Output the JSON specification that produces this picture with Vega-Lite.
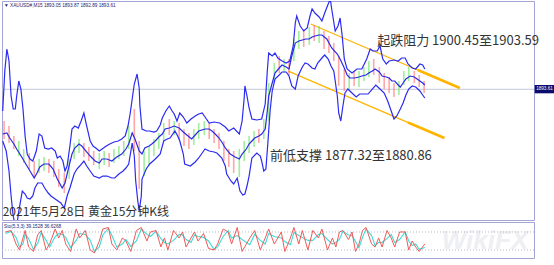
{
"$schema":"https://vega.github.io/schema/vega-lite/v6.json",
"background":"white",
"padding":{"left":1,"top":0,"right":0,"bottom":0},
"spacing":0,
"config":{"view":{"stroke":"#a3a5d6","strokeWidth":1},"font":"Liberation Sans","axis":{"labelFont":"Liberation Sans","labelFontSize":4.6,"labelColor":"#1c1c70","domainColor":"#9ea0d0","tickColor":"#9ea0d0","tickSize":2,"labelPadding":2,"grid":false,"title":null}},
"datasets":{
"bands":[
{"s":"U","i":1,"p":1888.14},{"s":"U","i":4,"p":1898.21},{"s":"U","i":7,"p":1903.75},{"s":"U","i":10,"p":1900.73},{"s":"U","i":13,"p":1891.92},{"s":"U","i":16,"p":1888.65},{"s":"U","i":19,"p":1888.65},{"s":"U","i":21,"p":1891.92},{"s":"U","i":24,"p":1895.70},{"s":"U","i":27,"p":1893.68},{"s":"U","i":30,"p":1888.65},{"s":"U","i":33,"p":1881.85},{"s":"U","i":36,"p":1877.31},{"s":"U","i":40,"p":1876.06},{"s":"U","i":44,"p":1875.55},{"s":"U","i":49,"p":1878.07},{"s":"U","i":53,"p":1882.35},{"s":"U","i":57,"p":1881.85},{"s":"U","i":61,"p":1878.83},{"s":"U","i":66,"p":1878.57},{"s":"U","i":71,"p":1878.83},{"s":"U","i":76,"p":1878.07},{"s":"U","i":79,"p":1876.31},{"s":"U","i":83,"p":1876.81},{"s":"U","i":87,"p":1875.55},{"s":"U","i":90,"p":1873.03},{"s":"U","i":93,"p":1874.29},{"s":"U","i":97,"p":1879.33},{"s":"U","i":100,"p":1883.61},{"s":"U","i":104,"p":1884.36},{"s":"U","i":109,"p":1883.86},{"s":"U","i":113,"p":1885.62},{"s":"U","i":117,"p":1887.64},{"s":"U","i":121,"p":1884.36},{"s":"U","i":126,"p":1880.59},{"s":"U","i":130,"p":1879.33},{"s":"U","i":134,"p":1878.83},{"s":"U","i":139,"p":1878.07},{"s":"U","i":143,"p":1878.57},{"s":"U","i":149,"p":1879.33},{"s":"U","i":154,"p":1879.83},{"s":"U","i":160,"p":1880.34},{"s":"U","i":166,"p":1880.59},{"s":"U","i":171,"p":1881.09},{"s":"U","i":176,"p":1881.85},{"s":"U","i":180,"p":1884.36},{"s":"U","i":183,"p":1887.39},{"s":"U","i":186,"p":1891.16},{"s":"U","i":189,"p":1894.94},{"s":"U","i":193,"p":1897.46},{"s":"U","i":196,"p":1893.93},{"s":"U","i":197,"p":1889.40},{"s":"U","i":200,"p":1883.61},{"s":"U","i":206,"p":1883.11},{"s":"U","i":211,"p":1883.11},{"s":"U","i":217,"p":1882.85},{"s":"U","i":221,"p":1883.11},{"s":"U","i":226,"p":1884.62},{"s":"U","i":229,"p":1886.38},{"s":"U","i":234,"p":1888.14},{"s":"U","i":239,"p":1889.40},{"s":"U","i":243,"p":1888.14},{"s":"U","i":246,"p":1887.39},{"s":"U","i":250,"p":1885.62},{"s":"U","i":254,"p":1887.64},{"s":"U","i":259,"p":1886.63},{"s":"U","i":264,"p":1885.12},{"s":"U","i":270,"p":1886.13},{"s":"U","i":276,"p":1886.88},{"s":"U","i":281,"p":1887.39},{"s":"U","i":286,"p":1887.64},{"s":"U","i":291,"p":1886.38},{"s":"U","i":296,"p":1885.12},{"s":"U","i":303,"p":1885.37},{"s":"U","i":311,"p":1885.12},{"s":"U","i":319,"p":1884.11},{"s":"U","i":324,"p":1883.11},{"s":"U","i":331,"p":1883.86},{"s":"U","i":339,"p":1882.35},{"s":"U","i":343,"p":1885.62},{"s":"U","i":346,"p":1891.42},{"s":"U","i":347,"p":1894.44},{"s":"U","i":350,"p":1891.92},{"s":"U","i":353,"p":1888.90},{"s":"U","i":357,"p":1886.13},{"s":"U","i":364,"p":1885.88},{"s":"U","i":371,"p":1886.13},{"s":"U","i":376,"p":1889.90},{"s":"U","i":379,"p":1898.21},{"s":"U","i":381,"p":1902.75},{"s":"U","i":386,"p":1901.99},{"s":"U","i":390,"p":1902.75},{"s":"U","i":394,"p":1901.49},{"s":"U","i":400,"p":1900.73},{"s":"U","i":406,"p":1900.23},{"s":"U","i":411,"p":1900.73},{"s":"U","i":416,"p":1904.51},{"s":"U","i":419,"p":1910.30},{"s":"U","i":421,"p":1912.06},{"s":"U","i":426,"p":1909.55},{"s":"U","i":431,"p":1908.29},{"s":"U","i":436,"p":1909.04},{"s":"U","i":440,"p":1912.06},{"s":"U","i":443,"p":1913.83},{"s":"U","i":447,"p":1912.82},{"s":"U","i":453,"p":1911.81},{"s":"U","i":457,"p":1910.80},{"s":"U","i":461,"p":1912.82},{"s":"U","i":466,"p":1915.08},{"s":"U","i":469,"p":1916.34},{"s":"U","i":471,"p":1913.83},{"s":"U","i":476,"p":1908.29},{"s":"U","i":480,"p":1909.55},{"s":"U","i":483,"p":1911.56},{"s":"U","i":486,"p":1907.03},{"s":"U","i":489,"p":1901.24},{"s":"U","i":493,"p":1898.72},{"s":"U","i":500,"p":1897.71},{"s":"U","i":507,"p":1898.72},{"s":"U","i":514,"p":1898.72},{"s":"U","i":521,"p":1901.24},{"s":"U","i":526,"p":1903.75},{"s":"U","i":530,"p":1903.25},{"s":"U","i":536,"p":1903.25},{"s":"U","i":540,"p":1904.51},{"s":"U","i":544,"p":1901.24},{"s":"U","i":549,"p":1899.98},{"s":"U","i":553,"p":1900.73},{"s":"U","i":560,"p":1900.98},{"s":"U","i":566,"p":1900.73},{"s":"U","i":571,"p":1901.49},{"s":"U","i":576,"p":1901.49},{"s":"U","i":580,"p":1899.98},{"s":"U","i":586,"p":1898.97},{"s":"U","i":591,"p":1898.72},{"s":"U","i":597,"p":1899.98},{"s":"U","i":601,"p":1899.73},{"s":"U","i":604,"p":1898.72},
{"s":"M","i":1,"p":1882.35},{"s":"M","i":7,"p":1882.60},{"s":"M","i":11,"p":1881.34},{"s":"M","i":17,"p":1879.83},{"s":"M","i":21,"p":1878.57},{"s":"M","i":29,"p":1876.31},{"s":"M","i":34,"p":1874.80},{"s":"M","i":40,"p":1873.03},{"s":"M","i":46,"p":1871.27},{"s":"M","i":50,"p":1872.53},{"s":"M","i":54,"p":1874.04},{"s":"M","i":60,"p":1874.80},{"s":"M","i":67,"p":1874.80},{"s":"M","i":73,"p":1873.54},{"s":"M","i":79,"p":1871.02},{"s":"M","i":86,"p":1868.75},{"s":"M","i":90,"p":1870.01},{"s":"M","i":94,"p":1873.03},{"s":"M","i":100,"p":1877.31},{"s":"M","i":104,"p":1878.83},{"s":"M","i":110,"p":1879.83},{"s":"M","i":114,"p":1879.33},{"s":"M","i":120,"p":1878.07},{"s":"M","i":126,"p":1876.81},{"s":"M","i":133,"p":1875.55},{"s":"M","i":139,"p":1875.05},{"s":"M","i":143,"p":1876.06},{"s":"M","i":150,"p":1876.06},{"s":"M","i":157,"p":1875.55},{"s":"M","i":164,"p":1876.56},{"s":"M","i":171,"p":1877.31},{"s":"M","i":177,"p":1878.57},{"s":"M","i":181,"p":1879.83},{"s":"M","i":186,"p":1882.60},{"s":"M","i":190,"p":1881.09},{"s":"M","i":196,"p":1878.07},{"s":"M","i":200,"p":1877.31},{"s":"M","i":204,"p":1878.83},{"s":"M","i":210,"p":1879.33},{"s":"M","i":214,"p":1879.83},{"s":"M","i":219,"p":1880.59},{"s":"M","i":224,"p":1881.60},{"s":"M","i":229,"p":1882.35},{"s":"M","i":233,"p":1883.61},{"s":"M","i":239,"p":1883.86},{"s":"M","i":246,"p":1884.36},{"s":"M","i":253,"p":1883.86},{"s":"M","i":259,"p":1882.85},{"s":"M","i":264,"p":1882.10},{"s":"M","i":271,"p":1881.09},{"s":"M","i":276,"p":1882.10},{"s":"M","i":281,"p":1883.11},{"s":"M","i":290,"p":1883.61},{"s":"M","i":296,"p":1883.61},{"s":"M","i":300,"p":1883.11},{"s":"M","i":306,"p":1882.10},{"s":"M","i":310,"p":1881.34},{"s":"M","i":314,"p":1880.34},{"s":"M","i":319,"p":1878.83},{"s":"M","i":326,"p":1877.31},{"s":"M","i":333,"p":1876.56},{"s":"M","i":339,"p":1876.06},{"s":"M","i":343,"p":1877.31},{"s":"M","i":349,"p":1878.57},{"s":"M","i":353,"p":1879.83},{"s":"M","i":357,"p":1880.59},{"s":"M","i":361,"p":1881.34},{"s":"M","i":367,"p":1881.85},{"s":"M","i":371,"p":1882.35},{"s":"M","i":376,"p":1883.61},{"s":"M","i":379,"p":1888.14},{"s":"M","i":381,"p":1891.92},{"s":"M","i":386,"p":1895.19},{"s":"M","i":390,"p":1897.71},{"s":"M","i":396,"p":1898.97},{"s":"M","i":400,"p":1899.72},{"s":"M","i":406,"p":1899.22},{"s":"M","i":410,"p":1898.72},{"s":"M","i":414,"p":1901.99},{"s":"M","i":419,"p":1905.26},{"s":"M","i":424,"p":1905.77},{"s":"M","i":429,"p":1906.02},{"s":"M","i":434,"p":1906.27},{"s":"M","i":439,"p":1906.27},{"s":"M","i":443,"p":1906.78},{"s":"M","i":447,"p":1907.03},{"s":"M","i":453,"p":1907.28},{"s":"M","i":457,"p":1907.28},{"s":"M","i":464,"p":1906.27},{"s":"M","i":471,"p":1904.01},{"s":"M","i":479,"p":1902.49},{"s":"M","i":483,"p":1901.24},{"s":"M","i":489,"p":1898.97},{"s":"M","i":493,"p":1897.21},{"s":"M","i":497,"p":1896.45},{"s":"M","i":504,"p":1896.45},{"s":"M","i":510,"p":1896.70},{"s":"M","i":514,"p":1896.95},{"s":"M","i":520,"p":1897.21},{"s":"M","i":524,"p":1897.71},{"s":"M","i":529,"p":1898.21},{"s":"M","i":533,"p":1898.72},{"s":"M","i":539,"p":1897.96},{"s":"M","i":543,"p":1896.95},{"s":"M","i":549,"p":1896.70},{"s":"M","i":553,"p":1896.45},{"s":"M","i":557,"p":1895.70},{"s":"M","i":561,"p":1895.70},{"s":"M","i":566,"p":1894.69},{"s":"M","i":569,"p":1894.18},{"s":"M","i":573,"p":1895.19},{"s":"M","i":577,"p":1896.20},{"s":"M","i":583,"p":1896.95},{"s":"M","i":589,"p":1896.70},{"s":"M","i":593,"p":1896.20},{"s":"M","i":597,"p":1895.70},{"s":"M","i":601,"p":1895.19},{"s":"M","i":604,"p":1894.69},
{"s":"L","i":1,"p":1880.59},{"s":"L","i":6,"p":1878.07},{"s":"L","i":10,"p":1873.03},{"s":"L","i":13,"p":1866.74},{"s":"L","i":16,"p":1861.70},{"s":"L","i":19,"p":1859.19},{"s":"L","i":21,"p":1859.19},{"s":"L","i":24,"p":1862.96},{"s":"L","i":29,"p":1867.99},{"s":"L","i":33,"p":1867.24},{"s":"L","i":36,"p":1866.24},{"s":"L","i":40,"p":1865.98},{"s":"L","i":44,"p":1866.74},{"s":"L","i":47,"p":1868.75},{"s":"L","i":51,"p":1870.01},{"s":"L","i":57,"p":1870.01},{"s":"L","i":61,"p":1868.75},{"s":"L","i":66,"p":1867.49},{"s":"L","i":70,"p":1866.74},{"s":"L","i":76,"p":1865.98},{"s":"L","i":80,"p":1865.48},{"s":"L","i":84,"p":1864.98},{"s":"L","i":89,"p":1863.72},{"s":"L","i":93,"p":1866.74},{"s":"L","i":97,"p":1868.75},{"s":"L","i":100,"p":1870.52},{"s":"L","i":103,"p":1872.28},{"s":"L","i":107,"p":1873.54},{"s":"L","i":111,"p":1874.29},{"s":"L","i":117,"p":1875.55},{"s":"L","i":121,"p":1874.29},{"s":"L","i":126,"p":1873.03},{"s":"L","i":131,"p":1871.77},{"s":"L","i":139,"p":1871.27},{"s":"L","i":144,"p":1871.77},{"s":"L","i":150,"p":1871.77},{"s":"L","i":157,"p":1871.27},{"s":"L","i":161,"p":1871.27},{"s":"L","i":167,"p":1872.28},{"s":"L","i":173,"p":1873.03},{"s":"L","i":177,"p":1873.79},{"s":"L","i":181,"p":1874.80},{"s":"L","i":186,"p":1880.08},{"s":"L","i":189,"p":1876.81},{"s":"L","i":191,"p":1870.52},{"s":"L","i":194,"p":1865.48},{"s":"L","i":196,"p":1862.96},{"s":"L","i":199,"p":1866.74},{"s":"L","i":200,"p":1871.02},{"s":"L","i":206,"p":1873.54},{"s":"L","i":211,"p":1874.80},{"s":"L","i":219,"p":1876.06},{"s":"L","i":226,"p":1877.31},{"s":"L","i":231,"p":1880.59},{"s":"L","i":236,"p":1881.09},{"s":"L","i":240,"p":1881.34},{"s":"L","i":247,"p":1883.11},{"s":"L","i":251,"p":1881.85},{"s":"L","i":254,"p":1880.59},{"s":"L","i":259,"p":1877.31},{"s":"L","i":261,"p":1874.80},{"s":"L","i":269,"p":1874.29},{"s":"L","i":276,"p":1875.30},{"s":"L","i":281,"p":1876.31},{"s":"L","i":290,"p":1878.57},{"s":"L","i":296,"p":1878.07},{"s":"L","i":303,"p":1877.82},{"s":"L","i":307,"p":1877.57},{"s":"L","i":314,"p":1876.31},{"s":"L","i":319,"p":1874.29},{"s":"L","i":321,"p":1872.28},{"s":"L","i":327,"p":1870.52},{"s":"L","i":331,"p":1869.76},{"s":"L","i":336,"p":1871.27},{"s":"L","i":340,"p":1867.99},{"s":"L","i":344,"p":1866.99},{"s":"L","i":347,"p":1867.24},{"s":"L","i":350,"p":1869.26},{"s":"L","i":353,"p":1871.77},{"s":"L","i":357,"p":1876.31},{"s":"L","i":364,"p":1877.57},{"s":"L","i":369,"p":1876.81},{"s":"L","i":371,"p":1875.55},{"s":"L","i":374,"p":1873.03},{"s":"L","i":377,"p":1873.54},{"s":"L","i":380,"p":1880.59},{"s":"L","i":383,"p":1888.14},{"s":"L","i":386,"p":1893.18},{"s":"L","i":390,"p":1896.20},{"s":"L","i":396,"p":1897.21},{"s":"L","i":400,"p":1897.96},{"s":"L","i":406,"p":1897.96},{"s":"L","i":410,"p":1896.95},{"s":"L","i":414,"p":1894.44},{"s":"L","i":419,"p":1893.68},{"s":"L","i":423,"p":1896.95},{"s":"L","i":429,"p":1899.22},{"s":"L","i":433,"p":1900.23},{"s":"L","i":437,"p":1899.98},{"s":"L","i":443,"p":1898.97},{"s":"L","i":447,"p":1898.72},{"s":"L","i":451,"p":1900.23},{"s":"L","i":457,"p":1901.49},{"s":"L","i":461,"p":1902.24},{"s":"L","i":466,"p":1901.24},{"s":"L","i":470,"p":1899.47},{"s":"L","i":474,"p":1898.21},{"s":"L","i":479,"p":1891.92},{"s":"L","i":481,"p":1887.64},{"s":"L","i":484,"p":1885.62},{"s":"L","i":487,"p":1889.40},{"s":"L","i":490,"p":1892.67},{"s":"L","i":494,"p":1893.68},{"s":"L","i":500,"p":1892.67},{"s":"L","i":506,"p":1891.67},{"s":"L","i":511,"p":1892.42},{"s":"L","i":517,"p":1892.42},{"s":"L","i":523,"p":1892.42},{"s":"L","i":529,"p":1893.68},{"s":"L","i":534,"p":1894.69},{"s":"L","i":540,"p":1893.68},{"s":"L","i":546,"p":1892.67},{"s":"L","i":551,"p":1890.66},{"s":"L","i":556,"p":1888.14},{"s":"L","i":560,"p":1886.13},{"s":"L","i":564,"p":1886.88},{"s":"L","i":569,"p":1888.65},{"s":"L","i":573,"p":1890.16},{"s":"L","i":577,"p":1892.17},{"s":"L","i":581,"p":1893.68},{"s":"L","i":586,"p":1894.44},{"s":"L","i":591,"p":1894.18},{"s":"L","i":597,"p":1893.18},{"s":"L","i":601,"p":1892.17},{"s":"L","i":604,"p":1891.42}
],
"candles":[
{"i":3,"h":1885.62,"l":1881.09,"d":"d"},{"i":10,"h":1884.36,"l":1880.08,"d":"d"},{"i":17,"h":1881.85,"l":1878.57,"d":"d"},{"i":24,"h":1880.59,"l":1876.81,"d":"u"},{"i":31,"h":1878.57,"l":1875.05,"d":"u"},{"i":39,"h":1877.57,"l":1873.54,"d":"d"},{"i":46,"h":1875.55,"l":1871.52,"d":"d"},{"i":53,"h":1876.06,"l":1872.53,"d":"u"},{"i":60,"h":1876.56,"l":1873.03,"d":"u"},{"i":67,"h":1876.06,"l":1872.53,"d":"d"},{"i":74,"h":1875.55,"l":1871.52,"d":"d"},{"i":81,"h":1873.54,"l":1869.01,"d":"d"},{"i":89,"h":1872.53,"l":1867.49,"d":"d"},{"i":96,"h":1876.06,"l":1871.02,"d":"u"},{"i":103,"h":1880.08,"l":1876.06,"d":"u"},{"i":110,"h":1881.09,"l":1877.57,"d":"u"},{"i":117,"h":1880.08,"l":1876.56,"d":"d"},{"i":124,"h":1879.08,"l":1875.55,"d":"d"},{"i":131,"h":1878.07,"l":1874.54,"d":"d"},{"i":139,"h":1877.57,"l":1873.54,"d":"u"},{"i":146,"h":1878.07,"l":1874.54,"d":"u"},{"i":153,"h":1877.57,"l":1874.04,"d":"d"},{"i":160,"h":1878.57,"l":1875.05,"d":"u"},{"i":167,"h":1879.33,"l":1876.06,"d":"u"},{"i":174,"h":1880.59,"l":1876.81,"d":"u"},{"i":181,"h":1884.36,"l":1878.57,"d":"u"},{"i":189,"h":1888.65,"l":1878.07,"d":"d"},{"i":196,"h":1880.59,"l":1868.50,"d":"d"},{"i":203,"h":1878.07,"l":1871.77,"d":"u"},{"i":210,"h":1879.33,"l":1874.29,"d":"u"},{"i":217,"h":1881.09,"l":1876.81,"d":"u"},{"i":224,"h":1882.60,"l":1878.57,"d":"u"},{"i":231,"h":1885.12,"l":1880.59,"d":"u"},{"i":239,"h":1886.13,"l":1882.10,"d":"d"},{"i":246,"h":1885.62,"l":1882.10,"d":"u"},{"i":253,"h":1885.12,"l":1881.09,"d":"d"},{"i":260,"h":1883.61,"l":1879.33,"d":"d"},{"i":267,"h":1882.60,"l":1878.57,"d":"d"},{"i":274,"h":1883.61,"l":1879.58,"d":"u"},{"i":281,"h":1885.12,"l":1881.09,"d":"u"},{"i":289,"h":1885.62,"l":1882.10,"d":"u"},{"i":296,"h":1885.12,"l":1881.09,"d":"d"},{"i":303,"h":1883.61,"l":1880.08,"d":"d"},{"i":310,"h":1882.60,"l":1878.57,"d":"d"},{"i":317,"h":1880.59,"l":1875.55,"d":"d"},{"i":324,"h":1878.57,"l":1874.04,"d":"d"},{"i":331,"h":1878.07,"l":1872.53,"d":"d"},{"i":339,"h":1878.57,"l":1871.52,"d":"u"},{"i":346,"h":1880.59,"l":1875.55,"d":"u"},{"i":353,"h":1881.85,"l":1877.57,"d":"u"},{"i":360,"h":1883.11,"l":1879.08,"d":"u"},{"i":367,"h":1883.61,"l":1880.08,"d":"d"},{"i":374,"h":1886.13,"l":1881.09,"d":"u"},{"i":381,"h":1895.19,"l":1885.62,"d":"u"},{"i":389,"h":1900.23,"l":1895.19,"d":"u"},{"i":396,"h":1901.99,"l":1897.71,"d":"d"},{"i":403,"h":1901.24,"l":1897.71,"d":"u"},{"i":410,"h":1901.24,"l":1897.21,"d":"d"},{"i":417,"h":1906.27,"l":1900.73,"d":"u"},{"i":424,"h":1908.29,"l":1903.75,"d":"u"},{"i":431,"h":1908.79,"l":1904.26,"d":"d"},{"i":439,"h":1909.29,"l":1904.76,"d":"u"},{"i":446,"h":1909.80,"l":1905.77,"d":"d"},{"i":453,"h":1909.55,"l":1905.26,"d":"u"},{"i":460,"h":1908.29,"l":1903.75,"d":"d"},{"i":467,"h":1907.03,"l":1902.75,"d":"d"},{"i":474,"h":1905.26,"l":1900.73,"d":"d"},{"i":481,"h":1901.99,"l":1894.44,"d":"d"},{"i":489,"h":1898.72,"l":1893.18,"d":"d"},{"i":496,"h":1897.71,"l":1893.68,"d":"u"},{"i":503,"h":1898.21,"l":1894.44,"d":"d"},{"i":510,"h":1898.21,"l":1894.18,"d":"u"},{"i":517,"h":1899.22,"l":1895.70,"d":"u"},{"i":524,"h":1900.73,"l":1896.70,"d":"u"},{"i":531,"h":1901.24,"l":1897.21,"d":"d"},{"i":539,"h":1899.22,"l":1895.19,"d":"d"},{"i":546,"h":1897.71,"l":1893.68,"d":"d"},{"i":553,"h":1896.70,"l":1892.67,"d":"d"},{"i":560,"h":1895.19,"l":1891.67,"d":"d"},{"i":567,"h":1895.70,"l":1892.17,"d":"u"},{"i":574,"h":1898.21,"l":1894.69,"d":"u"},{"i":581,"h":1899.22,"l":1895.70,"d":"u"},{"i":589,"h":1898.21,"l":1895.19,"d":"d"},{"i":596,"h":1897.21,"l":1894.18,"d":"d"},{"i":603,"h":1895.70,"l":1892.67,"d":"d"}
],
"channel":[
{"line":"up","i":441,"p":1910.05},{"line":"up","i":654,"p":1893.93},
{"line":"lo","i":409,"p":1898.2},{"line":"lo","i":632,"p":1881.33}
],
"arrows":[
{"line":"up","i":594,"p":1898.47},{"line":"up","i":654,"p":1893.93},
{"line":"lo","i":580,"p":1885.26},{"line":"lo","i":632,"p":1881.33}
],
"sto":[
{"i":5,"k":80,"d":75},{"i":13,"k":85,"d":82},{"i":20,"k":40,"d":62},{"i":25,"k":20,"d":30},{"i":30,"k":60,"d":40},{"i":33,"k":85,"d":72},{"i":38,"k":30,"d":58},{"i":45,"k":15,"d":22},{"i":51,"k":70,"d":42},{"i":56,"k":85,"d":78},{"i":63,"k":20,"d":52},{"i":68,"k":40,"d":30},{"i":76,"k":90,"d":65},{"i":81,"k":60,"d":75},{"i":86,"k":85,"d":72},{"i":91,"k":40,"d":62},{"i":98,"k":15,"d":28},{"i":106,"k":90,"d":52},{"i":111,"k":60,"d":75},{"i":119,"k":85,"d":72},{"i":126,"k":20,"d":52},{"i":132,"k":10,"d":15},{"i":139,"k":50,"d":30},{"i":144,"k":90,"d":70},{"i":152,"k":95,"d":92},{"i":157,"k":40,"d":68},{"i":164,"k":20,"d":30},{"i":172,"k":60,"d":40},{"i":177,"k":50,"d":55},{"i":184,"k":15,"d":32},{"i":192,"k":85,"d":50},{"i":199,"k":95,"d":90},{"i":207,"k":50,"d":72},{"i":212,"k":80,"d":65},{"i":220,"k":85,"d":82},{"i":227,"k":30,"d":58},{"i":232,"k":60,"d":45},{"i":237,"k":20,"d":40},{"i":245,"k":85,"d":52},{"i":253,"k":60,"d":72},{"i":258,"k":80,"d":70},{"i":263,"k":30,"d":55},{"i":270,"k":60,"d":45},{"i":275,"k":80,"d":70},{"i":280,"k":50,"d":65},{"i":288,"k":75,"d":62},{"i":295,"k":25,"d":50},{"i":303,"k":20,"d":22},{"i":308,"k":40,"d":30},{"i":316,"k":90,"d":65},{"i":323,"k":80,"d":85},{"i":328,"k":40,"d":60},{"i":336,"k":95,"d":68},{"i":343,"k":15,"d":55},{"i":354,"k":60,"d":38},{"i":361,"k":85,"d":72},{"i":369,"k":20,"d":52},{"i":376,"k":60,"d":40},{"i":381,"k":90,"d":75},{"i":389,"k":40,"d":65},{"i":399,"k":80,"d":60},{"i":404,"k":15,"d":48},{"i":412,"k":60,"d":38},{"i":417,"k":95,"d":78},{"i":424,"k":40,"d":68},{"i":429,"k":85,"d":62},{"i":437,"k":20,"d":52},{"i":444,"k":85,"d":52},{"i":452,"k":60,"d":72},{"i":457,"k":90,"d":75},{"i":465,"k":20,"d":55},{"i":472,"k":60,"d":40},{"i":477,"k":30,"d":45},{"i":482,"k":80,"d":55},{"i":487,"k":85,"d":82},{"i":495,"k":55,"d":70},{"i":500,"k":80,"d":68},{"i":505,"k":15,"d":48},{"i":510,"k":40,"d":28},{"i":515,"k":85,"d":62},{"i":520,"k":95,"d":90},{"i":528,"k":40,"d":68},{"i":533,"k":30,"d":35},{"i":538,"k":60,"d":45},{"i":543,"k":30,"d":45},{"i":550,"k":85,"d":58},{"i":556,"k":60,"d":72},{"i":561,"k":30,"d":45},{"i":568,"k":80,"d":55},{"i":576,"k":80,"d":80},{"i":581,"k":20,"d":50},{"i":586,"k":50,"d":35},{"i":591,"k":30,"d":40},{"i":596,"k":15,"d":22},{"i":604,"k":40,"d":28}
]
},
"vconcat":[
{
"width":532,"height":219,
"resolve":{"scale":{"color":"independent"}},
"layer":[
{"data":{"values":[{"p":1893.61}]},"mark":{"type":"rule","color":"#c3c9d9","strokeWidth":1},
 "encoding":{"y":{"field":"p","type":"quantitative","scale":{"domain":[1860.7,1915.84],"nice":false,"zero":false},"axis":null}}},
{"data":{"name":"channel"},"mark":{"type":"line","color":"#ffb400","strokeWidth":1.3},
 "encoding":{"x":{"field":"i","type":"quantitative","scale":{"domain":[0,760],"nice":false,"zero":false},"axis":null},
 "y":{"field":"p","type":"quantitative","scale":{"domain":[1860.7,1915.84],"nice":false,"zero":false},"axis":null},"detail":{"field":"line"}}},
{"data":{"name":"arrows"},"mark":{"type":"line","color":"#ffb400","strokeWidth":2.6},
 "encoding":{"x":{"field":"i","type":"quantitative","scale":{"domain":[0,760],"nice":false,"zero":false},"axis":null},
 "y":{"field":"p","type":"quantitative","scale":{"domain":[1860.7,1915.84],"nice":false,"zero":false},"axis":null},"detail":{"field":"line"}}},
{"data":{"name":"candles"},"mark":{"type":"rule","strokeWidth":1.6,"opacity":0.6},
 "encoding":{"x":{"field":"i","type":"quantitative","scale":{"domain":[0,760],"nice":false,"zero":false},"axis":null},
 "y":{"field":"h","type":"quantitative","scale":{"domain":[1860.7,1915.84],"nice":false,"zero":false},"axis":null},"y2":{"field":"l"},
 "color":{"field":"d","type":"nominal","scale":{"domain":["u","d"],"range":["#5ee35e","#ff6b6b"]},"legend":null}}},
{"data":{"name":"bands"},"mark":{"type":"line","strokeWidth":1.2,"clip":true},
 "encoding":{"x":{"field":"i","type":"quantitative","scale":{"domain":[0,760],"nice":false,"zero":false},"axis":null},
 "y":{"field":"p","type":"quantitative","scale":{"domain":[1860.7,1915.84],"nice":false,"zero":false},
   "axis":{"orient":"right","values":[1862.2,1866.5,1870.85,1875.15,1879.45,1883.75,1888.05,1892.35,1896.7,1901.0,1905.3,1909.6,1913.9],"format":".2f"}},
 "detail":{"field":"s"},
 "color":{"field":"s","type":"nominal","scale":{"domain":["U","M","L"],"range":["#2b2bf2","#2a2ae6","#2b2bf2"]},"legend":null}}},
{"data":{"values":[{"t":"起跌阻力 1900.45至1903.59","i":536,"p":1905.77},{"t":"前低支撑 1877.32至1880.86","i":383,"p":1876.81}]},
 "mark":{"type":"text","align":"left","baseline":"middle","fontSize":13,"font":"Noto Sans CJK SC","color":"#333333"},
 "encoding":{"x":{"field":"i","type":"quantitative","scale":{"domain":[0,760],"nice":false,"zero":false},"axis":null},
 "y":{"field":"p","type":"quantitative","scale":{"domain":[1860.7,1915.84],"nice":false,"zero":false},"axis":null},"text":{"field":"t"}}},
{"data":{"values":[{"t":"2021年5月28日 黄金15分钟K线","i":1,"p":1861.0}]},
 "mark":{"type":"text","align":"left","baseline":"bottom","fontSize":12,"font":"Noto Sans CJK SC","color":"#333333"},
 "encoding":{"x":{"field":"i","type":"quantitative","scale":{"domain":[0,760],"nice":false,"zero":false},"axis":null},
 "y":{"field":"p","type":"quantitative","scale":{"domain":[1860.7,1915.84],"nice":false,"zero":false},"axis":null},"text":{"field":"t"}}},
{"data":{"values":[{"t":"▼ XAUUSD#,M15  1893.05 1893.87 1892.89 1893.61","i":3,"p":1914.5}]},
 "mark":{"type":"text","align":"left","baseline":"middle","fontSize":4.7,"font":"Liberation Sans","color":"#1c1c70"},
 "encoding":{"x":{"field":"i","type":"quantitative","scale":{"domain":[0,760],"nice":false,"zero":false},"axis":null},
 "y":{"field":"p","type":"quantitative","scale":{"domain":[1860.7,1915.84],"nice":false,"zero":false},"axis":null},"text":{"field":"t"}}},
{"data":{"values":[{"a":761,"b":789,"top":1894.69,"bot":1892.6}]},
 "mark":{"type":"rect","color":"#0b0b6e"},
 "encoding":{"x":{"field":"a","type":"quantitative","scale":{"domain":[0,760],"nice":false,"zero":false},"axis":null},"x2":{"field":"b"},
 "y":{"field":"top","type":"quantitative","scale":{"domain":[1860.7,1915.84],"nice":false,"zero":false},"axis":null},"y2":{"field":"bot"}}},
{"data":{"values":[{"t":"1893.61","i":775,"p":1893.65}]},
 "mark":{"type":"text","align":"center","baseline":"middle","fontSize":4.6,"font":"Liberation Sans","color":"white"},
 "encoding":{"x":{"field":"i","type":"quantitative","scale":{"domain":[0,760],"nice":false,"zero":false},"axis":null},
 "y":{"field":"p","type":"quantitative","scale":{"domain":[1860.7,1915.84],"nice":false,"zero":false},"axis":null},"text":{"field":"t"}}}
]
},
{
"width":532,"height":36,
"layer":[
{"data":{"values":[{"t":"WikiFX","i":690,"v":50}]},
 "mark":{"type":"text","align":"center","baseline":"middle","fontSize":26,"fontWeight":"bold","fontStyle":"italic","font":"Liberation Sans","color":"#eeeef3"},
 "encoding":{"x":{"field":"i","type":"quantitative","scale":{"domain":[0,760],"nice":false,"zero":false},"axis":null},
 "y":{"field":"v","type":"quantitative","scale":{"domain":[-6.7,113.3],"nice":false,"zero":false},"axis":null},"text":{"field":"t"}}},
{"data":{"values":[{"v":20},{"v":80}]},"mark":{"type":"rule","color":"#b8b8c8","strokeDash":[1,2],"strokeWidth":1},
 "encoding":{"y":{"field":"v","type":"quantitative","scale":{"domain":[-6.7,113.3],"nice":false,"zero":false},"axis":null}}},
{"data":{"name":"sto"},"mark":{"type":"line","color":"#3fdcd6","strokeWidth":1.1},
 "encoding":{"x":{"field":"i","type":"quantitative","scale":{"domain":[0,760],"nice":false,"zero":false},
   "axis":{"orient":"bottom","values":[0,48,96,144,192,240,288,336,384,432,480,528,576],"labelAlign":"left","labelExpr":"['19 May 2021','20 May 05:15','20 May 17:15','21 May 06:15','21 May 18:15','24 May 07:15','24 May 19:15','25 May 08:15','25 May 20:15','26 May 09:15','26 May 21:15','27 May 10:15','27 May 22:15'][round(datum.value/48)]","labelPadding":1}},
 "y":{"field":"d","type":"quantitative","scale":{"domain":[-6.7,113.3],"nice":false,"zero":false},"axis":{"orient":"right","values":[0,20,80,100]}}}},
{"data":{"name":"sto"},"mark":{"type":"line","color":"#f05a5a","strokeWidth":1},
 "encoding":{"x":{"field":"i","type":"quantitative","scale":{"domain":[0,760],"nice":false,"zero":false},"axis":null},
 "y":{"field":"k","type":"quantitative","scale":{"domain":[-6.7,113.3],"nice":false,"zero":false},"axis":null}}},
{"data":{"values":[{"t":"Sto(5,3,3) 39.1528  36.6268","i":3,"v":98}]},
 "mark":{"type":"text","align":"left","baseline":"middle","fontSize":4.7,"font":"Liberation Sans","color":"#1c1c70"},
 "encoding":{"x":{"field":"i","type":"quantitative","scale":{"domain":[0,760],"nice":false,"zero":false},"axis":null},
 "y":{"field":"v","type":"quantitative","scale":{"domain":[-6.7,113.3],"nice":false,"zero":false},"axis":null},"text":{"field":"t"}}}
]
}
]
}
